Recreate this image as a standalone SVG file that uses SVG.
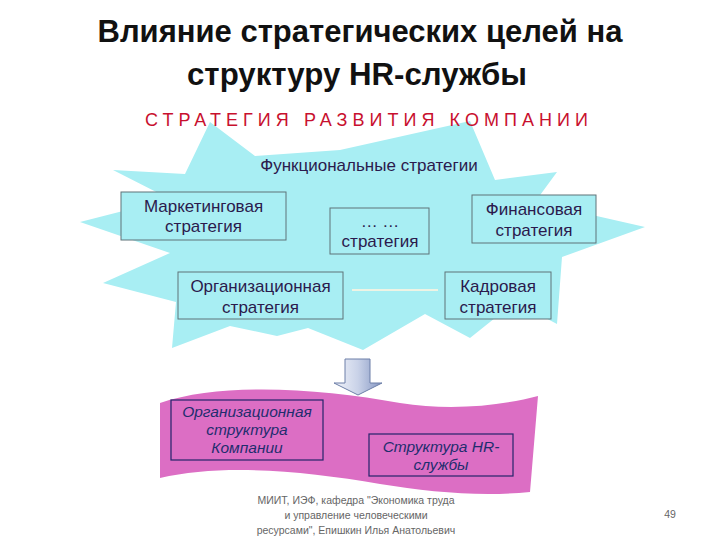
<svg xmlns="http://www.w3.org/2000/svg" width="720" height="540" viewBox="0 0 720 540">
<defs>
<linearGradient id="arrowGrad" x1="0" y1="0" x2="1" y2="0">
<stop offset="0" stop-color="#f2f4fa"/>
<stop offset="0.5" stop-color="#c9d2e8"/>
<stop offset="1" stop-color="#8596c2"/>
</linearGradient>
<marker id="dashHead" viewBox="0 0 10 10" refX="9" refY="5" markerWidth="6" markerHeight="6" orient="auto">
<path d="M0,1 L10,5 L0,9 Z" fill="#2a2a7a"/>
</marker>
<style>
.title{font-family:"Liberation Sans",Arial,sans-serif;font-weight:bold;font-size:31px;fill:#111;text-anchor:middle}
.red{font-family:"Liberation Sans",Arial,sans-serif;font-size:18px;fill:#c8102e}
.box{fill:#a8eef3;stroke:#5f7378;stroke-width:1}
.bt{font-family:"Liberation Sans",Arial,sans-serif;font-size:17px;fill:#2b1a4d;text-anchor:middle}
.pbox{fill:#dc6ec4;stroke:#23236a;stroke-width:1.2}
.pt{font-family:"Liberation Sans",Arial,sans-serif;font-style:italic;font-size:15.5px;fill:#1f2d6e;text-anchor:middle}
.ft{font-family:"Liberation Sans",Arial,sans-serif;font-size:10.5px;fill:#666;text-anchor:middle}
</style>
</defs>
<rect width="720" height="540" fill="#fff"/>

<g id="title">
<text class="title" x="360" y="42" textLength="525" lengthAdjust="spacingAndGlyphs">Влияние стратегических целей на</text>
<text class="title" x="357" y="85" textLength="340" lengthAdjust="spacingAndGlyphs">структуру HR-службы</text>
</g>

<g id="starburst">
<polygon fill="#a8eef3" points="210,122 255,156 340,150 470,121 495,180 557,172 535,202 645,227 562,257 557,324 515,302 470,338 425,314 363,350 308,328 277,336 230,326 172,348 176,302 103,283 170,253 80,222 170,199 113,170 185,174"/>
</g>

<g id="company-strategy">
<text class="red" x="145" y="126" textLength="443" lengthAdjust="spacing">СТРАТЕГИЯ РАЗВИТИЯ  КОМПАНИИ</text>
</g>

<g id="functional">
<text class="bt" x="369" y="171">Функциональные стратегии</text>
</g>

<g id="connectors">
<line x1="352" y1="290" x2="438" y2="290" stroke="#eef3e4" stroke-width="2"/>
<line x1="327" y1="450" x2="362" y2="450" stroke="#2a2a7a" stroke-width="1" stroke-dasharray="3,2" marker-end="url(#dashHead)"/>
</g>

<g id="marketing">
<rect class="box" x="121" y="192" width="165" height="48"/>
<text class="bt" x="203.5" y="212">Маркетинговая</text>
<text class="bt" x="203.5" y="232">стратегия</text>
</g>

<g id="other">
<rect class="box" x="330" y="208" width="99" height="46"/>
<text class="bt" x="380" y="227">… …</text>
<text class="bt" x="380" y="247">стратегия</text>
</g>

<g id="finance">
<rect class="box" x="472" y="195" width="124" height="48"/>
<text class="bt" x="534" y="215">Финансовая</text>
<text class="bt" x="534" y="236">стратегия</text>
</g>

<g id="org-strategy">
<rect class="box" x="178" y="272" width="165" height="47"/>
<text class="bt" x="260.5" y="292">Организационная</text>
<text class="bt" x="260.5" y="313">стратегия</text>
</g>

<g id="hr-strategy">
<rect class="box" x="445" y="272" width="106" height="47"/>
<text class="bt" x="498" y="292">Кадровая</text>
<text class="bt" x="498" y="313">стратегия</text>
</g>

<g id="down-arrow">
<path d="M345,359 L370,359 L370,383 L382,383 L358,395 L334,383 L345,383 Z" fill="url(#arrowGrad)" stroke="#6d7fa8" stroke-width="1"/>
</g>

<g id="wave">
<path d="M160,403 C220,382 320,388 400,403 C450,411 500,406 538,396 L530,492 C480,497 430,492 380,484 C300,470 220,464 160,478 Z" fill="#dc6ec4"/>
</g>

<g id="org-structure">
<rect class="pbox" x="171" y="400" width="152" height="60"/>
<text class="pt" x="247" y="417">Организационная</text>
<text class="pt" x="247" y="435">структура</text>
<text class="pt" x="247" y="453">Компании</text>
</g>

<g id="hr-structure">
<rect class="pbox" x="369" y="434" width="144" height="42"/>
<text class="pt" x="441" y="452">Структура HR-</text>
<text class="pt" x="441" y="470">службы</text>
</g>

<g id="footer">
<text class="ft" x="356" y="504">МИИТ, ИЭФ, кафедра "Экономика труда</text>
<text class="ft" x="356" y="519">и управление человеческими</text>
<text class="ft" x="356" y="534">ресурсами", Епишкин Илья Анатольевич</text>
<text class="ft" x="670" y="518">49</text>
</g>
</svg>
